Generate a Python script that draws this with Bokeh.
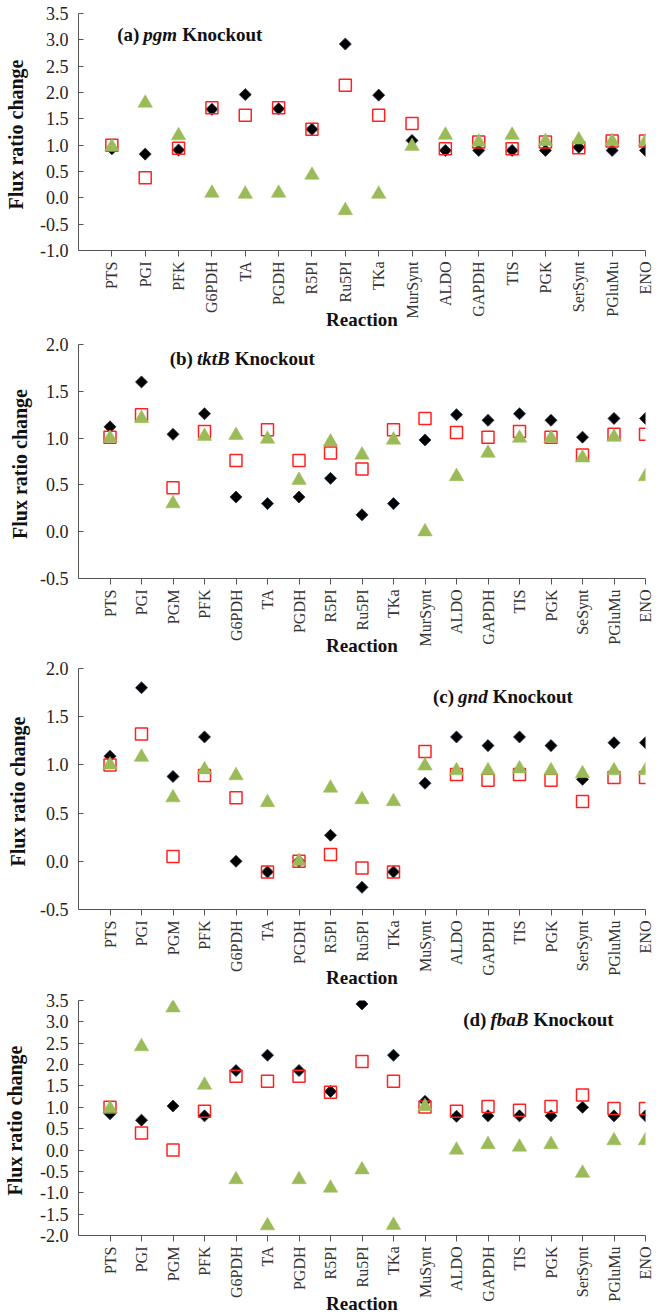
import numpy as np
from bokeh.plotting import figure
from bokeh.models import Range1d, FixedTicker, PrintfTickFormatter, Label
from bokeh.layouts import column
from bokeh.embed import file_html
from bokeh.resources import INLINE

# ---------------- data ----------------
reactions_a = ["PTS", "PGI", "PFK", "G6PDH", "TA", "PGDH", "R5PI", "Ru5PI", "TKa",
               "MurSynt", "ALDO", "GAPDH", "TIS", "PGK", "SerSynt", "PGluMu", "ENO"]
diamond_a = [0.93, 0.83, 0.91, 1.68, 1.96, 1.69, 1.30, 2.92, 1.95, 1.09, 0.90, 0.90, 0.90, 0.90, 0.96, 0.90, 0.90]
square_a = [1.00, 0.38, 0.94, 1.71, 1.57, 1.71, 1.30, 2.14, 1.57, 1.41, 0.93, 1.06, 0.93, 1.06, 0.95, 1.08, 1.08]
triangle_a = [0.97, 1.80, 1.18, 0.09, 0.07, 0.09, 0.43, -0.24, 0.07, 0.98, 1.19, 1.06, 1.19, 1.07, 1.10, 1.07, 1.07]

reactions_b = ["PTS", "PGI", "PGM", "PFK", "G6PDH", "TA", "PGDH", "R5PI", "Ru5PI", "TKa",
               "MurSynt", "ALDO", "GAPDH", "TIS", "PGK", "SeSynt", "PGluMu", "ENO"]
diamond_b = [1.12, 1.60, 1.04, 1.26, 0.37, 0.30, 0.37, 0.57, 0.18, 0.30, 0.98, 1.25, 1.19, 1.26, 1.19, 1.01, 1.21, 1.21]
square_b = [1.01, 1.25, 0.47, 1.07, 0.76, 1.09, 0.76, 0.84, 0.67, 1.09, 1.21, 1.06, 1.01, 1.07, 1.01, 0.82, 1.04, 1.04]
triangle_b = [1.00, 1.21, 0.30, 1.02, 1.03, 0.99, 0.55, 0.96, 0.82, 0.98, 0.00, 0.59, 0.84, 1.00, 1.00, 0.79, 1.01, 0.59]

reactions_c = ["PTS", "PGI", "PGM", "PFK", "G6PDH", "TA", "PGDH", "R5PI", "Ru5PI", "TKa",
               "MuSynt", "ALDO", "GAPDH", "TIS", "PGK", "SerSynt", "PGluMu", "ENO"]
diamond_c = [1.09, 1.80, 0.88, 1.29, 0.00, -0.11, 0.00, 0.27, -0.27, -0.11, 0.81, 1.29, 1.20, 1.29, 1.20, 0.85, 1.23, 1.23]
square_c = [1.00, 1.32, 0.05, 0.89, 0.66, -0.11, 0.00, 0.07, -0.07, -0.11, 1.14, 0.90, 0.84, 0.90, 0.84, 0.62, 0.87, 0.87]
triangle_c = [1.00, 1.08, 0.66, 0.95, 0.89, 0.61, 0.00, 0.76, 0.64, 0.62, 0.99, 0.94, 0.94, 0.96, 0.94, 0.91, 0.94, 0.94]

reactions_d = ["PTS", "PGI", "PGM", "PFK", "G6PDH", "TA", "PGDH", "R5PI", "Ru5PI", "TKa",
               "MuSynt", "ALDO", "GAPDH", "TIS", "PGK", "SerSynt", "PGluMu", "ENO"]
diamond_d = [0.85, 0.70, 1.03, 0.80, 1.86, 2.22, 1.86, 1.37, 3.42, 2.22, 1.14, 0.79, 0.80, 0.80, 0.80, 1.00, 0.80, 0.80]
square_d = [1.00, 0.40, 0.00, 0.91, 1.73, 1.61, 1.73, 1.35, 2.07, 1.61, 1.01, 0.91, 1.02, 0.93, 1.02, 1.29, 0.97, 0.97]
triangle_d = [0.97, 2.42, 3.33, 1.52, -0.69, -1.77, -0.69, -0.89, -0.46, -1.76, 1.02, 0.00, 0.13, 0.07, 0.13, -0.54, 0.22, 0.22]

y_ranges = {"a": (-1.0, 3.5), "b": (-0.5, 2.0), "c": (-0.5, 2.0), "d": (-2.0, 3.5)}
title_prefix = {"a": "(a)", "b": "(b)", "c": "(c)", "d": "(d)"}
title_gene = {"a": "pgm", "b": "tktB", "c": "gnd", "d": "fbaB"}
title_suffix = "Knockout"

# ---------------- layout (pixels) ----------------
FONT = "Liberation Serif"
W = 660
TITLE_PX = 19
# approximate Times-style advance widths (em) for title placement
BOLD_W = {"(": .333, ")": .333, "a": .5, "b": .556, "c": .444, "d": .556}
BOLD_ITALIC_W = {"p": .5, "g": .5, "m": .778, "t": .278, "k": .5, "B": .667,
                 "n": .556, "d": .5, "f": .333, "b": .5, "a": .5}

layout = {
    # L/R/T/B borders, H figure height, tx title start (from frame left), ty baseline below frame top,
    # ys y-axis-label standoff, xs x-axis-label standoff
    "a": dict(L=78, R=15, T=13, B=78, H=333, tx=38.7, ty=25.7, ys=10, xs=-12),
    "b": dict(L=74, R=9, T=11, B=73, H=326, tx=91.2, ty=21.7, ys=6, xs=-14),
    "c": dict(L=75, R=11, T=9, B=81, H=331, tx=354.5, ty=28.4, ys=8, xs=-12),
    "d": dict(L=77, R=13, T=10, B=75, H=326, tx=384.7, ty=25.0, ys=11, xs=-12),
}


def text_width(txt, table):
    return sum(table.get(ch, 0.5) for ch in txt) * TITLE_PX


def make_panel(key, cats, dia, sq, tri):
    lo = layout[key]
    n = len(cats)
    xs = np.arange(1, n + 1)
    ylo, yhi = y_ranges[key]
    frame_h = lo["H"] - lo["T"] - lo["B"]
    p = figure(width=W, height=lo["H"], output_backend="svg", toolbar_location=None,
               title=None, x_range=Range1d(0, n), y_range=Range1d(ylo, yhi),
               min_border_left=lo["L"], min_border_right=lo["R"],
               min_border_top=lo["T"], min_border_bottom=lo["B"])
    p.outline_line_color = None
    p.xgrid.visible = False
    p.ygrid.visible = False
    p.background_fill_color = "white"
    p.border_fill_color = "white"

    # markers: diamonds, open squares, triangles
    p.scatter(xs, dia, marker="square", angle=np.pi / 4, size=8.5,
              fill_color="black", line_color="#1c2c44", line_width=0.8)
    p.scatter(xs, sq, marker="square", size=12, fill_color=None,
              line_color="#ff2020", line_width=1.5)
    p.scatter(xs, tri, marker="triangle", size=14.5, fill_color="#9bbb59",
              line_color="#9bbb59", line_width=0.5)

    # x axis
    xa = p.xaxis[0]
    xa.ticker = FixedTicker(ticks=list(xs))
    xa.major_label_overrides = {int(i): c for i, c in zip(xs, cats)}
    xa.major_label_orientation = np.pi / 2
    xa.major_label_text_font = FONT
    xa.major_label_text_font_size = "16px"
    xa.major_label_text_color = "#333333"
    xa.major_tick_in = 0
    xa.major_tick_out = 6
    xa.major_label_standoff = 5
    xa.minor_tick_line_color = None
    xa.axis_line_color = "#555555"
    xa.major_tick_line_color = "#555555"
    xa.axis_label = "Reaction"
    xa.axis_label_text_font = FONT
    xa.axis_label_text_font_style = "bold"
    xa.axis_label_text_font_size = "19px"
    xa.axis_label_text_color = "#111111"
    xa.axis_label_standoff = lo["xs"]

    # y axis
    ya = p.yaxis[0]
    ya.ticker = FixedTicker(ticks=list(np.arange(ylo, yhi + 0.01, 0.5)))
    ya.formatter = PrintfTickFormatter(format="%.1f")
    ya.major_label_text_font = FONT
    ya.major_label_text_font_size = "18px"
    ya.major_label_text_color = "#222222"
    ya.major_tick_in = 5
    ya.major_tick_out = 0
    ya.major_label_standoff = 10
    ya.minor_tick_line_color = None
    ya.axis_line_color = "#555555"
    ya.major_tick_line_color = "#555555"
    ya.axis_label = "Flux  ratio change"
    ya.axis_label_text_font = FONT
    ya.axis_label_text_font_style = "bold"
    ya.axis_label_text_font_size = "20px"
    ya.axis_label_text_color = "#111111"
    ya.axis_label_standoff = lo["ys"]

    # panel title with italic gene name
    base_y = frame_h - lo["ty"]
    x0 = lo["tx"]
    x1 = x0 + text_width(title_prefix[key], BOLD_W) + 4
    x2 = x1 + text_width(title_gene[key], BOLD_ITALIC_W) + 5
    for txt, style, tx in [(title_prefix[key], "bold", x0),
                           (title_gene[key], "bold italic", x1),
                           (title_suffix, "bold", x2)]:
        p.add_layout(Label(x=tx, y=base_y, x_units="screen", y_units="screen", text=txt,
                           text_font=FONT, text_font_style=style,
                           text_font_size=f"{TITLE_PX}px", text_color="#111111",
                           text_align="left", text_baseline="alphabetic"))
    return p


pa = make_panel("a", reactions_a, diamond_a, square_a, triangle_a)
pb = make_panel("b", reactions_b, diamond_b, square_b, triangle_b)
pc = make_panel("c", reactions_c, diamond_c, square_c, triangle_c)
pd = make_panel("d", reactions_d, diamond_d, square_d, triangle_d)

page = column(pa, pb, pc, pd, spacing=0)
open("out.html", "w").write(file_html(page, INLINE))
